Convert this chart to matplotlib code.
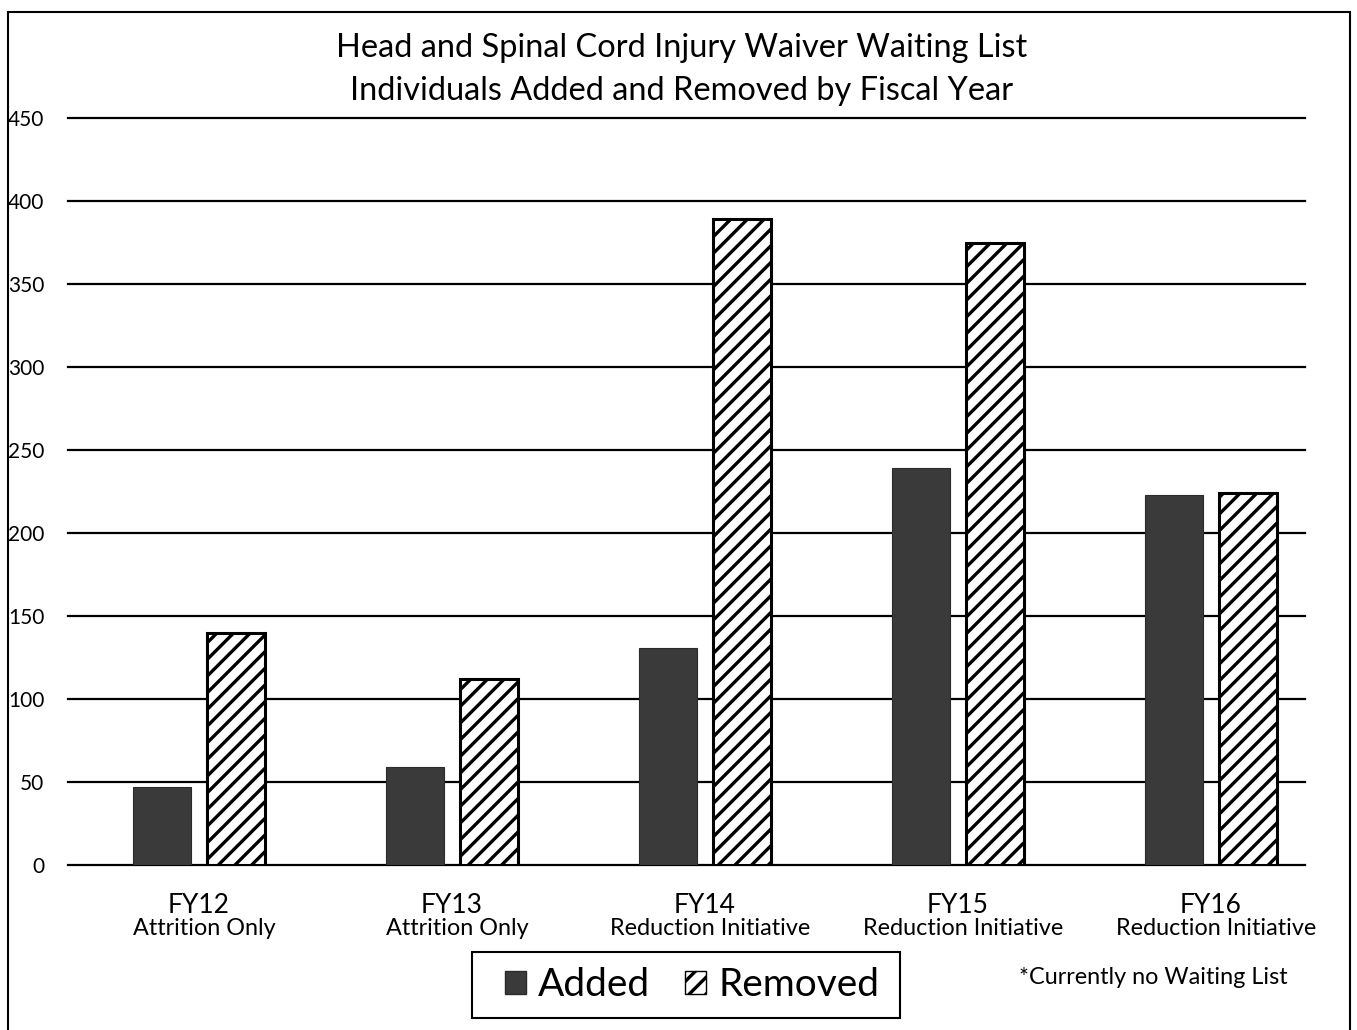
import matplotlib
matplotlib.use("Agg")
import matplotlib.pyplot as plt
from matplotlib.patches import Rectangle, Patch
import numpy as np

plt.rcParams['font.family'] = ['Lato', 'DejaVu Sans']
plt.rcParams['hatch.linewidth'] = 2.4

years = ["FY12", "FY13", "FY14", "FY15", "FY16"]
notes = ["Attrition Only", "Attrition Only", "Reduction Initiative",
         "Reduction Initiative", "Reduction Initiative"]
added = [47, 59, 131, 239, 223]
removed = [140, 112, 389, 375, 224]
yticks = [0, 50, 100, 150, 200, 250, 300, 350, 400, 450]

W, H = 1357, 1030
fig = plt.figure(figsize=(W / 100, H / 100), dpi=100)
ax = fig.add_axes([68 / W, (H - 865) / H, (1305 - 68) / W, (865 - 118) / H])

x = np.arange(len(years))
bw = 0.228
off = 0.146
ax.bar(x - off, added, bw, color='#3a3a3a', edgecolor='#2a2a2a', linewidth=0.8, zorder=3)
ax.bar(x + off, removed, bw, color='white', edgecolor='black', hatch='//',
       linewidth=2.2, zorder=3)

ax.set_xlim(-0.518, 4.372)
ax.set_ylim(0, 450)
ax.set_yticks(yticks)
ax.set_yticklabels([str(v) for v in yticks], fontsize=15)
ax.tick_params(axis='y', length=0, pad=17)
ax.set_xticks([])
ax.yaxis.grid(True, color='black', linewidth=1.6, zorder=0)
ax.set_axisbelow(True)
for gl in ax.get_ygridlines():
    gl.set_clip_on(False)
for s in ax.spines.values():
    s.set_visible(False)

for i in range(len(years)):
    ax.text(x[i], -0.054, years[i], transform=ax.get_xaxis_transform(),
            ha='center', va='center', fontsize=19)
    ax.text(x[i] + 0.02, -0.085, notes[i], transform=ax.get_xaxis_transform(),
            ha='center', va='center', fontsize=16.8)

fig.text(682 / W, 1 - 48 / H, "Head and Spinal Cord Injury Waiver Waiting List",
         ha='center', va='center', fontsize=23.4)
fig.text(682 / W, 1 - 91 / H, "Individuals Added and Removed by Fiscal Year",
         ha='center', va='center', fontsize=23.4)

handles = [Patch(facecolor='#3a3a3a', edgecolor='#2a2a2a', label='Added'),
           Patch(facecolor='white', edgecolor='black', hatch='//', label='Removed')]
leg = fig.legend(handles=handles, loc='center', bbox_to_anchor=(692 / W, 1 - 985 / H),
                 ncol=2, fontsize=28, frameon=False,
                 handlelength=0.55, handleheight=0.55, handletextpad=0.3,
                 columnspacing=0.9, borderpad=0.2)
fig.patches.append(Rectangle((472 / W, 1 - 1018 / H), (900 - 472) / W, (1018 - 952) / H,
                             transform=fig.transFigure, fill=False,
                             edgecolor='black', linewidth=1.5))

fig.text(1153 / W, 1 - 978 / H, "*Currently no Waiting List", ha='center',
         va='center', fontsize=16.8)

fig.patches.append(Rectangle((8 / W, -0.01), (1350 - 8) / W, (H - 12) / H + 0.01,
                             transform=fig.transFigure, fill=False,
                             edgecolor='black', linewidth=1.5))

fig.savefig("out.png", dpi=100)
